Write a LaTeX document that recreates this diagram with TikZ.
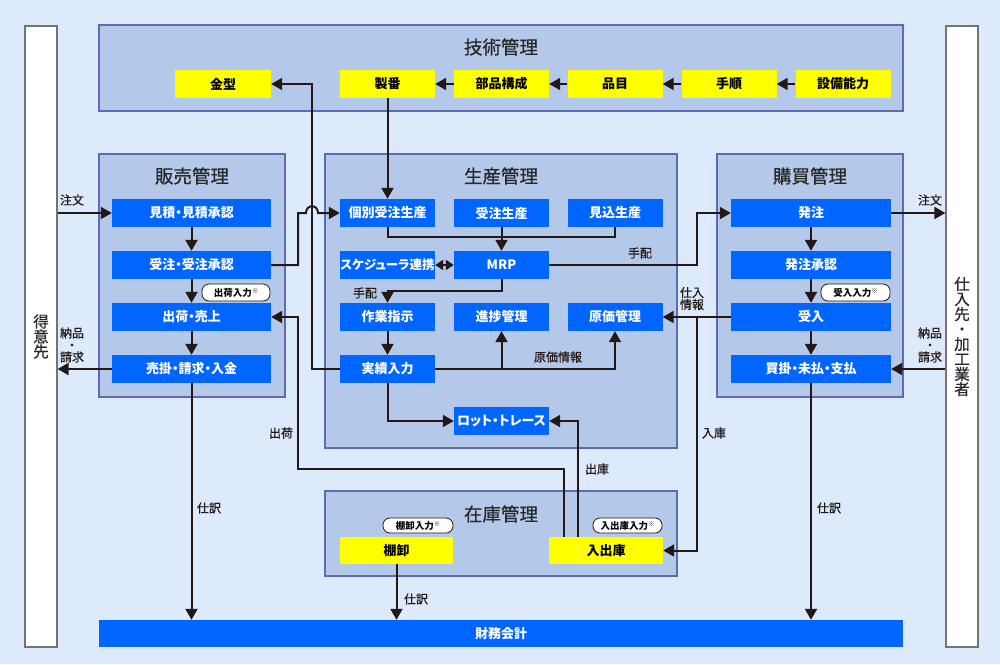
\documentclass[tikz,border=0pt]{standalone}
\usepackage{fontspec}
\setmainfont{Noto Sans CJK JP}[RawFeature=+palt]
\newfontfamily\mediumfont{Noto Sans CJK JP}[RawFeature=+palt, FakeBold=0.6]
\usepackage{xcolor}
\usepackage{tikz}
\usetikzlibrary{arrows.meta, positioning, calc}
\definecolor{bgblue}{RGB}{221,234,252}
\definecolor{groupfill}{RGB}{180,200,233}
\definecolor{groupline}{RGB}{92,108,180}
\definecolor{procblue}{RGB}{0,102,255}
\definecolor{masteryellow}{RGB}{255,255,0}
\definecolor{flowline}{RGB}{35,24,21}
\definecolor{titlegray}{RGB}{40,40,40}
\newcommand{\kome}{\raisebox{2.5pt}{\fontsize{6.5}{6.5}\selectfont ※}}

\tikzset{
  group/.style={draw=groupline, line width=1.8pt, fill=groupfill, inner sep=0pt},
  grouptitle/.style={text=titlegray, inner sep=0pt, font=\mediumfont\fontsize{18.5}{20}\selectfont},
  proc/.style={fill=procblue, text=white, minimum width=95pt, minimum height=28pt, inner sep=0pt,
    font=\fontsize{13}{14}\selectfont\bfseries},
  widebox/.style={proc, minimum width=159pt},
  master/.style={proc, fill=masteryellow, text=black},
  partner/.style={draw=black!55, line width=1.2pt, fill=white, minimum width=32pt, minimum height=621pt,
    inner sep=0pt, align=center, text=titlegray, font=\mediumfont\fontsize{15.5}{15}\selectfont},
  tag/.style={draw=flowline, line width=0.8pt, fill=white, rounded corners=7pt, minimum width=68pt,
    minimum height=17pt, inner sep=0pt, font=\fontsize{9.5}{9.5}\selectfont\bfseries},
  note/.style={text=flowline, inner sep=0pt, align=center, font=\mediumfont\fontsize{12}{12}\selectfont},
  link/.style={draw=flowline, line width=2pt},
  flow/.style={link, -{Triangle[length=11pt,width=12pt]}},
}

\begin{document}
\begin{tikzpicture}[x=1pt, y=-1pt]
    % Page and background
    \useasboundingbox (0,0) rectangle (1000,664);
    \fill[bgblue] (0,0) rectangle (1000,664);

    % Partners at both sides
    \node[partner] (tokui) at (41,336.5) {得\\意\\先};
    \node[partner] (shiire) at (962,336.5) {仕\\入\\先\\・\\加\\工\\業\\者};

    % Groups
    \node[group, minimum width=804pt, minimum height=86pt] (gijutsu) at (501,68) {};
    \node[group, minimum width=186pt, minimum height=243pt] (hanbai) at (192,275.5) {};
    \node[group, minimum width=352pt, minimum height=294pt] (seisan) at (501,301) {};
    \node[group, minimum width=186pt, minimum height=243pt] (kobai) at (810,275.5) {};
    \node[group, minimum width=352pt, minimum height=85pt] (zaiko) at (501,533.5) {};

    \node[grouptitle] (gijutsuT) at (501,47) {技術管理};
    \node[grouptitle] (hanbaiT) at (192,176) {販売管理};
    \node[grouptitle] (seisanT) at (501,176) {生産管理};
    \node[grouptitle] (kobaiT) at (810,176) {購買管理};
    \node[grouptitle] (zaikoT) at (501,514) {在庫管理};

    % Engineering masters
    \node[master, minimum width=96pt] (kanagata) at (223,84) {金型};
    \node[master] (seiban) at (387.5,84) {製番};
    \node[master] (buhin) at (501.5,84) {部品構成};
    \node[master] (hinmoku) at (615,84) {品目};
    \node[master] (tejun) at (729,84) {手順};
    \node[master] (setsubi) at (843,84) {設備能力};

    % Sales
    \node[widebox] (mitsu) at (191.5,213) {見積・見積承認};
    \node[widebox] (juchu) at (191.5,265) {受注・受注承認};
    \node[widebox] (shukka) at (191.5,317) {出荷・売上};
    \node[widebox] (urikake) at (191.5,369) {売掛・請求・入金};
    \node[tag] (shukkaTag) at (236,292.5) {出荷入力\kome};

    % Production
    \node[proc] (kobetsu) at (387.5,213) {個別受注生産};
    \node[proc] (juchusei) at (501.5,213) {受注生産};
    \node[proc] (mikomi) at (615,213) {見込生産};
    \node[proc, font=\fontsize{12.5}{13}\selectfont\bfseries] (sched) at (387.5,265) {スケジューラ連携};
    \node[proc] (mrp) at (501.5,265) {MRP};
    \node[proc] (sagyo) at (387.5,317) {作業指示};
    \node[proc] (shinchoku) at (501.5,317) {進捗管理};
    \node[proc] (genka) at (615,317) {原価管理};
    \node[proc] (jisseki) at (387.5,369) {実績入力};
    \node[proc] (lot) at (501.5,421) {ロット・トレース};

    % Purchasing
    \node[widebox, minimum width=160pt] (hatchu) at (811,213) {発注};
    \node[widebox, minimum width=160pt] (shonin) at (811,265) {発注承認};
    \node[widebox, minimum width=160pt] (ukeire) at (811,317) {受入};
    \node[widebox, minimum width=160pt] (kaikake) at (811,369) {買掛・未払・支払};
    \node[tag, minimum width=69pt] (ukeireTag) at (855.5,292.5) {受入入力\kome};

    % Inventory
    \node[master, minimum width=113pt, minimum height=27pt] (tana) at (396.5,550.5) {棚卸};
    \node[master, minimum width=114pt, minimum height=27pt] (nyushukko) at (606,550.5) {入出庫};
    \node[tag, minimum width=70pt, minimum height=15pt] (tanaTag) at (418,525.5) {棚卸入力\kome};
    \node[tag, minimum width=69pt, minimum height=15pt] (nyushukkoTag) at (627.5,525.5) {入出庫入力\kome};

    % Accounting
    \node[proc, minimum width=804pt, minimum height=27pt] (zaimu) at (501,633.5) {財務会計};

    % Engineering chain
    \draw[flow] (setsubi) -- (tejun);
    \draw[flow] (tejun) -- (hinmoku);
    \draw[flow] (hinmoku) -- (buhin);
    \draw[flow] (buhin) -- (seiban);
    \draw[flow] (seiban) -- (kobetsu);

    % Sales flow
    \draw[flow] (tokui.east |- mitsu) -- (mitsu);
    \draw[flow] (mitsu) -- (juchu);
    \draw[flow] (juchu) -- (shukka);
    \draw[flow] (shukka) -- (urikake);
    \draw[flow] (urikake) -- (urikake -| tokui.east);
    \draw[flow] (urikake) -- (urikake |- zaimu.north);
    \draw[flow] (juchu.east) -| (298,213) -- (306,213)
        .. controls (306,204) and (318,204) .. (318,213) -- (kobetsu.west);
    \node[note] (chumonL) at (72,200) {注文};
    \node[note] (nohinL) at (72,345) {納品\\・\\請求};
    \node[note] (shiwakeL) at (209,508) {仕訳};

    % Production flow
    \coordinate (merge) at (501.5,237);
    \draw[link] (kobetsu) |- (merge) -| (mikomi);
    \draw[flow] (juchusei) -- (mrp);
    \draw[link, {Triangle[length=8pt,width=10pt]}-{Triangle[length=8pt,width=10pt]}] (sched) -- (mrp);
    \draw[flow] (mrp.south) -- ++(0,12) -| (sagyo);
    \draw[flow] (sagyo) -- (jisseki);
    \draw[flow] (jisseki) -| (genka);
    \draw[flow] (shinchoku |- jisseki) -- (shinchoku);
    \draw[flow] (jisseki) |- (lot);
    \draw[flow] (jisseki.west) -| (312,84) -- (kanagata.east);
    \draw[flow] (mrp) -| (697,213) -- (hatchu.west);
    \node[note] (tehai1) at (640,253) {手配};
    \node[note] (tehai2) at (365,293) {手配};
    \node[note] (genkaL) at (558,357) {原価情報};

    % Purchasing flow
    \draw[flow] (hatchu) -- (hatchu -| shiire.west);
    \draw[flow] (hatchu) -- (shonin);
    \draw[flow] (shonin) -- (ukeire);
    \draw[flow] (ukeire) -- (kaikake);
    \draw[flow] (shiire.west |- kaikake) -- (kaikake);
    \draw[flow] (kaikake) -- (kaikake |- zaimu.north);
    \draw[flow] (ukeire) -- (genka);
    \coordinate (nyuko) at (697,317);
    \draw[flow] (nyuko) |- (nyushukko);
    \node[note] (chumonR) at (930,200) {注文};
    \node[note] (nohinR) at (930,345) {納品\\・\\請求};
    \node[note] (shiwakeR) at (829,508) {仕訳};
    \node[note, align=left] (shiireL) at (692,298.5) {仕入\\情報};
    \node[note] (nyukoL) at (714,433) {入庫};

    % Inventory flow
    \draw[flow] ([xshift=-28pt]nyushukko.north) |- (lot);
    \draw[flow] ([xshift=-42pt]nyushukko.north) |- (298,469) |- (shukka);
    \draw[flow] (tana) -- (tana |- zaimu.north);
    \node[note] (shukkoL) at (597,469) {出庫};
    \node[note] (shukkaL) at (281,433) {出荷};
    \node[note] (shiwakeM) at (416,599) {仕訳};
\end{tikzpicture}
\end{document}
